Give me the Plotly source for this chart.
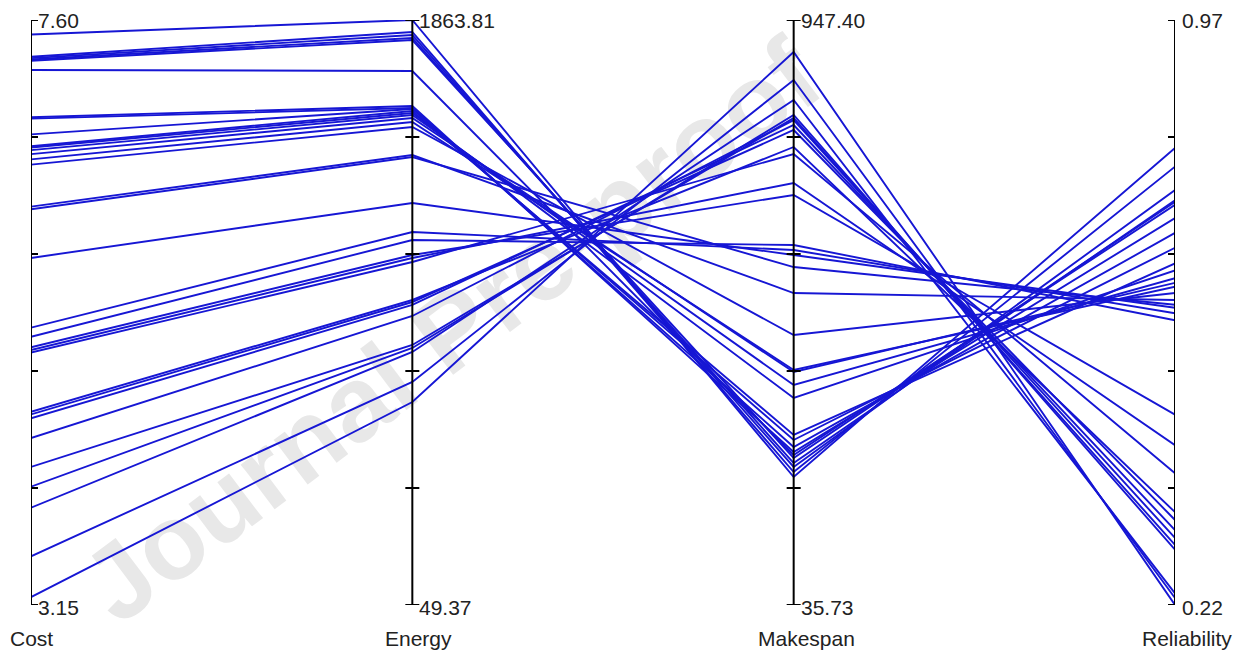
import plotly.graph_objects as go

# ---- data ----
dimensions = ["Cost", "Energy", "Makespan", "Reliability"]
axis_min = [3.15, 49.37, 35.73, 0.22]
axis_max = [7.60, 1863.81, 947.40, 0.97]
min_labels = ["3.15", "49.37", "35.73", "0.22"]
max_labels = ["7.60", "1863.81", "947.40", "0.97"]

cost = [7.49, 7.32, 7.31, 7.30, 7.29, 7.22, 6.86, 6.85, 6.73, 6.64, 6.63, 6.61,
        6.58, 6.54, 6.50, 6.18, 6.16, 5.79, 5.26, 5.19, 5.11, 5.09, 5.07, 4.62,
        4.60, 4.57, 4.42, 4.20, 4.05, 3.89, 3.52, 3.21]
energy = [1863.81, 1826.6, 1817.3, 1808.0, 1801.8, 1705.7, 1597.1, 1590.9, 1587.8,
          1581.6, 1575.4, 1569.2, 1559.9, 1547.5, 1532.0, 1445.1, 1438.9, 1296.2,
          1206.3, 1181.5, 1135.0, 1125.7, 1113.3, 995.4, 989.2, 979.9, 945.8,
          855.8, 846.5, 834.1, 741.1, 679.0]
makespan = [235.2, 243.0, 250.8, 257.0, 264.8, 269.5, 274.2, 282.0, 292.9, 300.7,
            358.3, 378.6, 398.8, 401.9, 456.5, 521.9, 562.4, 581.2, 588.9, 596.7,
            674.7, 693.4, 738.6, 749.5, 776.0, 783.8, 791.5, 794.7, 799.4, 822.7,
            853.9, 897.5]
reliability = [0.806, 0.782, 0.752, 0.739, 0.737, 0.733, 0.716, 0.697, 0.678, 0.658,
               0.649, 0.639, 0.633, 0.628, 0.620, 0.611, 0.605, 0.601, 0.594, 0.585,
               0.464, 0.425, 0.389, 0.339, 0.329, 0.316, 0.306, 0.297, 0.291, 0.235,
               0.229, 0.220]

columns = [cost, energy, makespan, reliability]
n_ticks = 6
name_shift = [0, 6, 13, 12]

LINE_COLOR = "rgb(22,22,212)"
FONT = "Liberation Sans, Arial, sans-serif"

fig = go.Figure()

# polylines: each solution normalised on every axis's own range
for k in range(len(cost)):
    ys = [(columns[d][k] - axis_min[d]) / (axis_max[d] - axis_min[d]) for d in range(4)]
    fig.add_trace(go.Scatter(
        x=list(range(4)), y=ys, mode="lines",
        line=dict(color=LINE_COLOR, width=1.9),
        showlegend=False, hoverinfo="skip", cliponaxis=False,
    ))

shapes = []
# watermark (below traces)
shapes.append(dict(
    type="line", xref="paper", yref="paper", layer="below",
    x0=0.0131, y0=-0.0308, x1=0.7107, y1=0.9983,
    line=dict(color="rgba(0,0,0,0)", width=0),
    label=dict(text="Journal Pre-proof", textposition="middle", yanchor="middle",
               font=dict(size=106, color="rgb(232,232,232)", family=FONT, weight="bold")),
))

annotations = []
half = 7 / 381.3
for d in range(4):
    shapes.append(dict(type="line", xref="x", yref="y", x0=d, x1=d, y0=0, y1=1,
                       line=dict(color="black", width=2), layer="above"))
    for t in range(n_ticks):
        yv = t / (n_ticks - 1)
        shapes.append(dict(type="line", xref="x", yref="y", x0=d - half, x1=d + half,
                           y0=yv, y1=yv, line=dict(color="black", width=2), layer="above"))
    annotations.append(dict(x=d, y=1, xref="x", yref="y", text=max_labels[d],
                            showarrow=False, xanchor="left", yanchor="middle", xshift=5,
                            font=dict(size=21, color="#222", family=FONT)))
    annotations.append(dict(x=d, y=0, xref="x", yref="y", text=min_labels[d],
                            showarrow=False, xanchor="left", yanchor="middle", xshift=5,
                            yshift=-2, font=dict(size=21, color="#222", family=FONT)))
    annotations.append(dict(x=d, y=0, xref="x", yref="y", text=dimensions[d],
                            showarrow=False, xanchor="center", yanchor="middle",
                            xshift=name_shift[d], yshift=-33,
                            font=dict(size=21, color="#222", family=FONT)))

fig.update_layout(
    width=1248, height=654, autosize=False,
    margin=dict(l=31, r=73, t=20, b=49),
    paper_bgcolor="white", plot_bgcolor="white",
    xaxis=dict(range=[0, 3], visible=False, fixedrange=True),
    yaxis=dict(range=[0, 1], visible=False, fixedrange=True),
    shapes=shapes, annotations=annotations,
)

fig.write_html("out.html")
